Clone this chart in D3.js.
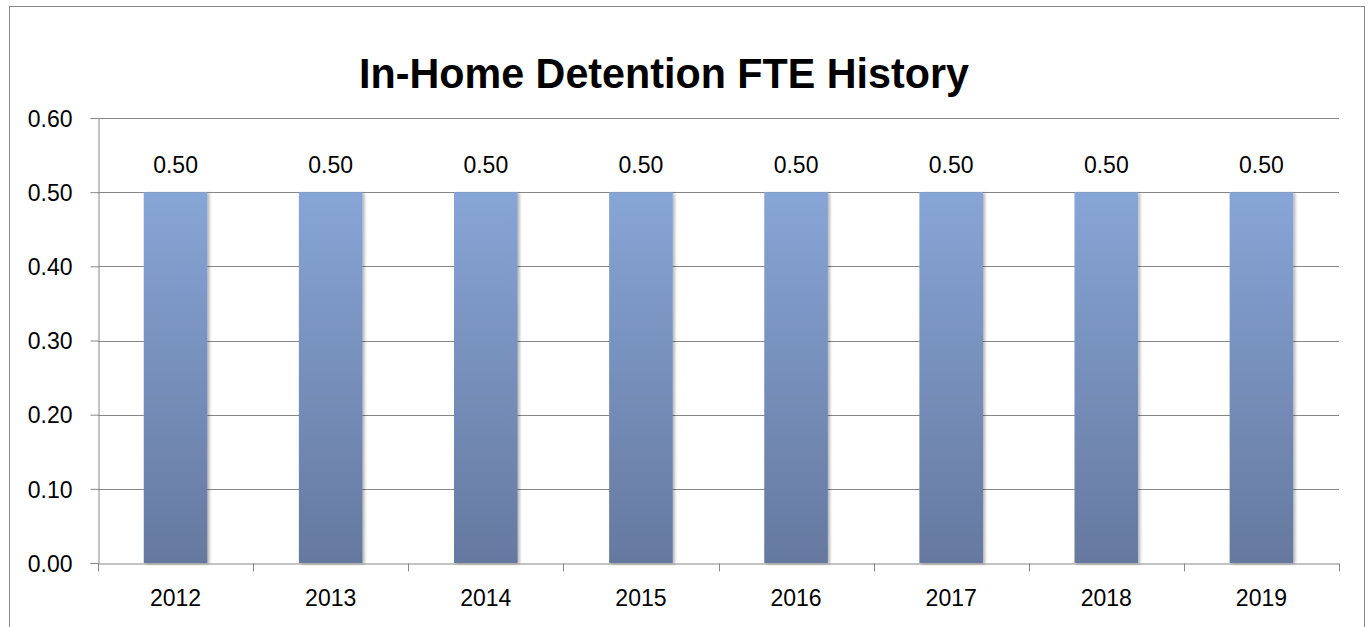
<!DOCTYPE html>
<html>
<head>
<meta charset="utf-8">
<script src="https://cdn.jsdelivr.net/npm/d3@7"></script>
<style>
  html, body { margin: 0; padding: 0; background: #fff; }
  svg { display: block; font-family: 'Liberation Sans', Arial, sans-serif; }
</style>
</head>
<body>
<svg id="chart" width="1370" height="627"></svg>
<script>
// chart data
const years = ['2012', '2013', '2014', '2015', '2016', '2017', '2018', '2019'];
const fte = [0.5, 0.5, 0.5, 0.5, 0.5, 0.5, 0.5, 0.5];
const yTicks = [0, 0.1, 0.2, 0.3, 0.4, 0.5, 0.6];
const title = 'In-Home Detention FTE History';

const svg = d3.select('#chart');
const margin = { left: 98, right: 31, top: 118, bottom: 64 };
const W = 1370, H = 627;

// outer frame
svg.append('rect')
  .attr('x', 9.5).attr('y', 6.5)
  .attr('width', 1355).attr('height', 700)
  .attr('fill', '#fff')
  .attr('stroke', '#868686')
  .attr('stroke-width', 1);

const x = d3.scaleBand()
  .domain(years)
  .range([margin.left, W - margin.right])
  .paddingInner(0.59)
  .paddingOuter(0.295);

const y = d3.scaleLinear()
  .domain([0, 0.6])
  .range([H - margin.bottom, margin.top]);

const defs = svg.append('defs');
const grad = defs.append('linearGradient')
  .attr('id', 'barGrad')
  .attr('x1', 0).attr('y1', 0).attr('x2', 0).attr('y2', 1);
grad.append('stop').attr('offset', '0%').attr('stop-color', '#87a5d6');
grad.append('stop').attr('offset', '100%').attr('stop-color', '#65799f');

const shadow = defs.append('filter').attr('id', 'shadow')
  .attr('x', '-20%').attr('y', '-5%').attr('width', '140%').attr('height', '110%');
shadow.append('feDropShadow')
  .attr('dx', 2).attr('dy', 1).attr('stdDeviation', 1.5)
  .attr('flood-color', '#000').attr('flood-opacity', 0.3);

// gridlines
svg.append('g')
  .selectAll('line')
  .data(yTicks.slice(1))
  .enter()
  .append('line')
  .attr('x1', margin.left).attr('x2', W - margin.right)
  .attr('y1', d => Math.round(y(d)) + 0.5)
  .attr('y2', d => Math.round(y(d)) + 0.5)
  .attr('stroke', '#868686');

// y axis
const yAxis = svg.append('g')
  .attr('transform', `translate(${margin.left + 0.5},0)`)
  .call(d3.axisLeft(y).tickValues(yTicks).tickFormat(d3.format('.2f')).tickSize(8).tickPadding(18));
yAxis.select('.domain').attr('stroke', '#868686');
yAxis.selectAll('.tick line').attr('stroke', '#868686');
yAxis.selectAll('.tick text')
  .attr('fill', '#000')
  .style('font-size', '23px')
  .attr('dy', '0.36em');

// bars
svg.append('g')
  .selectAll('rect')
  .data(fte)
  .enter()
  .append('rect')
  .attr('x', (d, i) => x(years[i]))
  .attr('y', d => y(d))
  .attr('width', x.bandwidth())
  .attr('height', d => y(0) - y(d))
  .attr('fill', 'url(#barGrad)')
  .attr('filter', 'url(#shadow)');

// x axis
const xAxis = svg.append('g')
  .attr('transform', `translate(0,${Math.round(y(0)) + 0.5})`)
  .call(d3.axisBottom(x).tickSize(0).tickPadding(26));
xAxis.select('.domain').attr('stroke', '#868686');
xAxis.selectAll('.tick text')
  .attr('fill', '#000')
  .style('font-size', '23px');

// x ticks at band boundaries
const step = x.step();
const bounds = d3.range(years.length + 1).map(i => margin.left + i * step);
xAxis.selectAll('.boundary')
  .data(bounds)
  .enter()
  .append('line')
  .attr('class', 'boundary')
  .attr('x1', d => Math.round(d) + 0.5).attr('x2', d => Math.round(d) + 0.5)
  .attr('y1', 0).attr('y2', 8)
  .attr('stroke', '#868686');

// value labels
svg.append('g')
  .selectAll('text')
  .data(fte)
  .enter()
  .append('text')
  .attr('x', (d, i) => x(years[i]) + x.bandwidth() / 2)
  .attr('y', d => y(d) - 19)
  .attr('text-anchor', 'middle')
  .style('font-size', '23px')
  .text(d => d3.format('.2f')(d));

// title: taller narrow face in the reference, so squeeze to its width
svg.append('text')
  .attr('x', 664)
  .attr('y', 88)
  .attr('text-anchor', 'middle')
  .attr('textLength', 610)
  .attr('lengthAdjust', 'spacingAndGlyphs')
  .style('font-weight', 'bold')
  .style('font-size', '42px')
  .text(title);
</script>
</body>
</html>
